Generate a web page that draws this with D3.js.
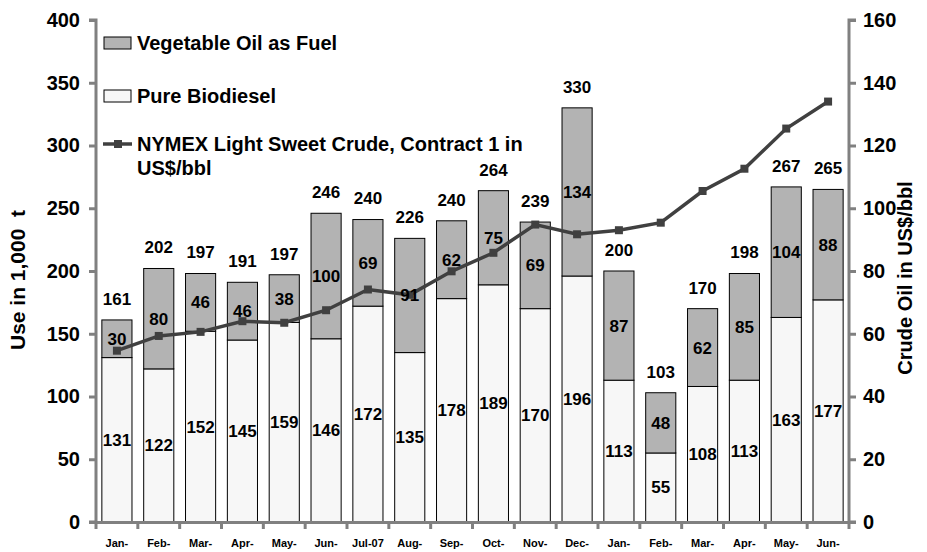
<!DOCTYPE html>
<html>
<head>
<meta charset="utf-8">
<script src="https://cdn.jsdelivr.net/npm/d3@7"></script>
<style>
body { margin: 0; background: #fff; }
text { font-family: "Liberation Sans", Arial, sans-serif; font-weight: bold; fill: #000; }
</style>
</head>
<body>
<div id="chart"></div>
<script>
var months = ['Jan-','Feb-','Mar-','Apr-','May-','Jun-','Jul-07','Aug-','Sep-','Oct-','Nov-','Dec-',
              'Jan-','Feb-','Mar-','Apr-','May-','Jun-'];
var biodiesel = [131,122,152,145,159,146,172,135,178,189,170,196,113,55,108,113,163,177];
var vegOil = [30,80,46,46,38,100,69,91,62,75,69,134,87,48,62,85,104,88];
var totals = [161,202,197,191,197,246,240,226,240,264,239,330,200,103,170,198,267,265];
var crude = [54.6,59.3,60.6,64.0,63.5,67.5,74.1,72.4,79.9,85.8,94.8,91.7,93.0,95.4,105.5,112.6,125.4,134.0];
var leftTicks = [0,50,100,150,200,250,300,350,400];
var rightTicks = [0,20,40,60,80,100,120,140,160];

var width = 927, height = 552;
var m = {left: 96, right: 849, top: 20, bottom: 522};
var font = '"Liberation Sans", Arial, sans-serif';

var svg = d3.select('#chart').append('svg')
	.attr('width', width).attr('height', height);

var idx = d3.range(months.length);
var x = d3.scaleBand().domain(idx).range([m.left, m.right]).paddingInner(0.28).paddingOuter(0.14);
var xStep = d3.scaleBand().domain(idx).range([m.left, m.right]);
var yL = d3.scaleLinear().domain([0, 400]).range([m.bottom, m.top]);
var yR = d3.scaleLinear().domain([0, 160]).range([m.bottom, m.top]);

// bars
var bars = svg.append('g');
idx.forEach(function(i){
	bars.append('rect')
		.attr('x', x(i)).attr('width', x.bandwidth())
		.attr('y', yL(biodiesel[i])).attr('height', yL(0) - yL(biodiesel[i]))
		.attr('fill', '#f7f7f7').attr('stroke', '#000').attr('stroke-width', 1);
	bars.append('rect')
		.attr('x', x(i)).attr('width', x.bandwidth())
		.attr('y', yL(biodiesel[i] + vegOil[i])).attr('height', yL(0) - yL(vegOil[i]))
		.attr('fill', '#b3b3b3').attr('stroke', '#000').attr('stroke-width', 1);
});

// axes
var axisColor = '#808080';
var gL = svg.append('g').attr('transform', 'translate(' + m.left + ',0)')
	.call(d3.axisLeft(yL).tickValues(leftTicks).tickSize(7).tickPadding(9));
var gR = svg.append('g').attr('transform', 'translate(' + m.right + ',0)')
	.call(d3.axisRight(yR).tickValues(rightTicks).tickSize(7).tickPadding(7));
var gX = svg.append('g').attr('transform', 'translate(0,' + m.bottom + ')')
	.call(d3.axisBottom(xStep).tickSize(0).tickPadding(17).tickFormat(function(d){ return months[d]; }));

[gL, gR, gX].forEach(function(g){
	g.select('.domain').attr('stroke', axisColor).attr('stroke-width', 3);
	g.selectAll('.tick line').attr('stroke', axisColor).attr('stroke-width', 3);
});
gL.select('.domain').attr('d', 'M-7,' + m.top + 'H0V' + m.bottom + 'H-7');
gR.select('.domain').attr('d', 'M7,' + m.top + 'H0V' + m.bottom + 'H7');
gL.selectAll('.tick text').style('font-size', '20px').style('font-family', font);
gR.selectAll('.tick text').style('font-size', '20px').style('font-family', font);
gX.selectAll('.tick text').style('font-size', '11px').style('font-family', font);

// x category boundary ticks
gX.selectAll('.bound').data(d3.range(months.length + 1)).enter().append('line')
	.attr('x1', function(d){ return m.left + d * xStep.step(); })
	.attr('x2', function(d){ return m.left + d * xStep.step(); })
	.attr('y1', 0).attr('y2', 7)
	.attr('stroke', axisColor).attr('stroke-width', 3);

// axis titles
svg.append('text')
	.attr('transform', 'translate(25,280) rotate(-90)')
	.attr('text-anchor', 'middle').style('font-size', '21px').style('white-space', 'pre')
	.text('Use in 1,000  t');
svg.append('text')
	.attr('transform', 'translate(912,278) rotate(-90)')
	.attr('text-anchor', 'middle').style('font-size', '20px')
	.text('Crude Oil in US$/bbl');

// line
var line = d3.line()
	.x(function(d, i){ return xStep(i) + xStep.bandwidth() / 2; })
	.y(function(d){ return yR(d); });
svg.append('path').datum(crude)
	.attr('d', line).attr('fill', 'none').attr('stroke', '#404040').attr('stroke-width', 3.5);
svg.selectAll('.mk').data(crude).enter().append('rect')
	.attr('x', function(d, i){ return xStep(i) + xStep.bandwidth() / 2 - 4; })
	.attr('y', function(d){ return yR(d) - 4; })
	.attr('width', 8).attr('height', 8).attr('fill', '#404040');

// labels
var labels = svg.append('g').attr('text-anchor', 'middle').style('font-size', '17px');
idx.forEach(function(i){
	var cx = x(i) + x.bandwidth() / 2;
	labels.append('text').attr('x', cx).attr('y', (yL(0) + yL(biodiesel[i])) / 2).attr('dy', '0.35em').text(biodiesel[i]);
	labels.append('text').attr('x', cx).attr('y', (yL(biodiesel[i]) + yL(biodiesel[i] + vegOil[i])) / 2).attr('dy', '0.35em').text(vegOil[i]);
	labels.append('text').attr('x', cx).attr('y', yL(biodiesel[i] + vegOil[i]) - 21).attr('dy', '0.35em').text(totals[i]);
});

// legend
var lg = svg.append('g').style('font-size', '20px');
lg.append('rect').attr('x', 104).attr('y', 37).attr('width', 27).attr('height', 12)
	.attr('fill', '#b3b3b3').attr('stroke', '#000').attr('stroke-width', 1);
lg.append('text').attr('x', 137).attr('y', 43).attr('dy', '0.35em').text('Vegetable Oil as Fuel');
lg.append('rect').attr('x', 104).attr('y', 90).attr('width', 27).attr('height', 12)
	.attr('fill', '#f7f7f7').attr('stroke', '#000').attr('stroke-width', 1);
lg.append('text').attr('x', 137).attr('y', 96).attr('dy', '0.35em').text('Pure Biodiesel');
lg.append('line').attr('x1', 103).attr('x2', 132).attr('y1', 144).attr('y2', 144)
	.attr('stroke', '#404040').attr('stroke-width', 3.5);
lg.append('rect').attr('x', 114).attr('y', 140).attr('width', 8).attr('height', 8).attr('fill', '#404040');
lg.append('text').attr('x', 137).attr('y', 144).attr('dy', '0.35em').text('NYMEX Light Sweet Crude, Contract 1 in');
lg.append('text').attr('x', 137).attr('y', 168).attr('dy', '0.35em').text('US$/bbl');
</script>
</body>
</html>
